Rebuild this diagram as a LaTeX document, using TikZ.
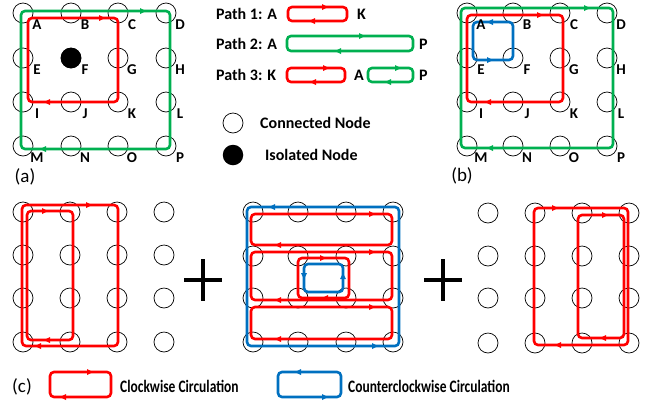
\documentclass[tikz,border=0pt]{standalone}
\usepackage{fontspec}
\setmainfont{Carlito}
\definecolor{cred}{RGB}{255,0,0}
\definecolor{cgreen}{RGB}{0,176,80}
\definecolor{cblue}{RGB}{0,112,192}
\newcommand\tipR[3]{\fill[#1] (#2+3,#3) -- (#2-3,#3-3) -- (#2-3,#3+3) -- cycle;}
\newcommand\tipL[3]{\fill[#1] (#2-3,#3) -- (#2+3,#3-3) -- (#2+3,#3+3) -- cycle;}
\newcommand\tipD[3]{\fill[#1] (#2,#3+3) -- (#2-3,#3-3) -- (#2+3,#3-3) -- cycle;}
\newcommand\tipU[3]{\fill[#1] (#2,#3-3) -- (#2-3,#3+3) -- (#2+3,#3+3) -- cycle;}
\newcommand\cwloop[7]{\draw[lp,draw=#1] (#2,#3) rectangle (#4,#5); \tipR{#1}{#6}{#3}\tipL{#1}{#7}{#5}}
\newcommand\ccwloop[7]{\draw[lp,draw=#1] (#2,#3) rectangle (#4,#5); \tipL{#1}{#6}{#3}\tipR{#1}{#7}{#5}}
\newcommand\gridnodes[3]{%
  \foreach \l [count=\i from 0] in {A,B,C,D,E,F,G,H,I,J,K,L,M,N,O,P}{
    \pgfmathtruncatemacro\cc{mod(\i,4)}
    \pgfmathtruncatemacro\rr{div(\i,4)}
    \pgfmathsetmacro\xx{{#2}[\cc]}
    \pgfmathsetmacro\yy{{#3}[\rr]}
    \node[nd] (#1-\l) at (\xx,\yy) {};
  }}
\begin{document}
\begin{tikzpicture}[x=1pt,y=-1pt,
  nd/.style={circle,draw=black,line width=0.7pt,minimum size=20pt,inner sep=0pt},
  iso/.style={circle,fill=black,minimum size=20.5pt,inner sep=0pt},
  lbl/.style={font=\fontsize{15}{15}\selectfont\bfseries,inner sep=0pt},
  leg/.style={font=\fontsize{16}{16}\selectfont\bfseries,inner sep=0pt,anchor=west},
  bleg/.style={font=\fontsize{17.5}{17.5}\selectfont\bfseries,inner sep=0pt,anchor=west},
  plab/.style={font=\fontsize{19}{19}\selectfont,inner sep=0pt},
  lp/.style={line width=2.6pt,rounded corners=4pt},
  plus/.style={line width=4.5pt}]
\useasboundingbox (0,0) rectangle (651,400);

% ---------- panel (a)
\gridnodes{a}{23,71,118,166}{13,58,102,146}
\node[iso] (a-Fiso) at (a-F) {};
\cwloop{cgreen}{21}{11}{170}{149}{143}{43}
\cwloop{cred}{28}{18}{118}{102}{102}{47}
\foreach \l in {A,B,C,D,E,F,G,H,I,J,K,L,M,N,O,P}{
  \node[lbl] (a-\l-t) at ([shift={(14,12)}]a-\l) {\l};}
\node[plab] (alab) at (25,177) {(a)};

% ---------- legend top
\node[leg] (p1) at (216,14) {Path 1: A};
\cwloop{cred}{288}{7}{347}{21}{325}{312}
\node[leg] (p1k) at (357,14) {K};
\node[leg] (p2) at (216,44) {Path 2: A};
\cwloop{cgreen}{287}{36}{413}{51}{362}{338}
\node[leg] (p2p) at (419,44) {P};
\node[leg] (p3) at (216,75) {Path 3: K};
\cwloop{cred}{287}{68}{345}{82}{326}{313}
\node[leg] (p3a) at (354,75) {A};
\cwloop{cgreen}{368}{68}{413}{82}{398}{388}
\node[leg] (p3p) at (419,75) {P};
\node[nd] (legc) at (233,123) {};
\node[leg] (legct) at (260,123) {Connected Node};
\node[iso] (legi) at (233,155) {};
\node[leg] (legit) at (265,155) {Isolated Node};

% ---------- panel (b)
\gridnodes{b}{467,513,560,607}{13,58,102,146}
\cwloop{cgreen}{461}{8}{613}{148}{587}{490}
\cwloop{cred}{467}{15}{563}{102}{540}{488}
\ccwloop{cblue}{473}{22}{513}{60}{490}{490}
\foreach \l in {A,B,C,D,E,F,G,H,I,J,K,L,M,N,O,P}{
  \node[lbl] (b-\l-t) at ([shift={(14,12)}]b-\l) {\l};}
\node[plab] (blab) at (462,176) {(b)};

% ---------- panel (c) left
\gridnodes{c1}{23,70,117,164}{212,255,298,342}
\cwloop{cred}{22}{205}{118}{346}{89}{38}
\cwloop{cred}{27}{211}{73}{340}{45}{47}

% plus signs
\draw[plus] (184,280) -- (222,280) (203,259) -- (203,301);
\draw[plus] (424,280) -- (462,280) (443,259) -- (443,301);

% ---------- panel (c) middle
\gridnodes{c2}{253,298,346,393}{212,256,298,342}
\ccwloop{cblue}{247}{207}{399}{346}{272}{375}
\cwloop{cred}{251}{214}{392}{245}{372}{278}
\cwloop{cred}{251}{252}{392}{300}{372}{278}
\cwloop{cred}{251}{307}{392}{339}{372}{278}
\cwloop{cred}{298}{258}{349}{298}{323}{325}
\draw[lp,draw=cblue] (304,264) rectangle (343,292);
\tipD{cblue}{304}{276}\tipU{cblue}{343}{276}

% ---------- panel (c) right
\gridnodes{c3}{488,535,582,629}{213,256,298,343}
\cwloop{cred}{534}{208}{628}{345}{555}{558}
\cwloop{cred}{578}{215}{624}{338}{605}{603}

% ---------- bottom legend
\node[plab] (clab) at (22,387) {(c)};
\cwloop{cred}{50}{372}{111}{397}{90}{63}
\node[bleg] (cwt) at (120,386) {\scalebox{0.77}[1]{Clockwise Circulation}};
\ccwloop{cblue}{278}{372}{341}{397}{298}{325}
\node[bleg] (ccwt) at (348,386) {\scalebox{0.77}[1]{Counterclockwise Circulation}};
\end{tikzpicture}
\end{document}
